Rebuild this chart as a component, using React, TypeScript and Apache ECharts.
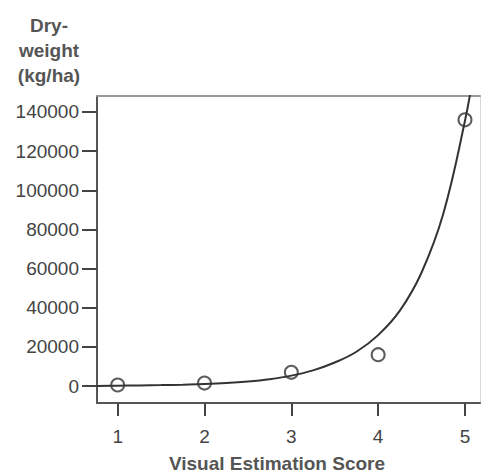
import React, { useEffect, useRef } from "react";
import * as echarts from "echarts";

const xTicks = [1, 2, 3, 4, 5];
const yTicks = [0, 20000, 40000, 60000, 80000, 100000, 120000, 140000];

// Observed points (Visual Estimation Score, Dry-weight kg/ha)
const scoreValues = [1, 2, 3, 4, 5];
const dryWeightValues = [500, 1500, 7000, 16000, 136000];

// Fitted curve
const curveX = [0.76, 1, 1.25, 1.5, 1.75, 2, 2.25, 2.5, 2.75, 3, 3.25, 3.5, 3.75, 4, 4.25, 4.5, 4.75, 5, 5.1];
const curveY = [0, 150, 280, 450, 700, 1000, 1500, 2300, 3500, 5300, 8000, 12000, 17500, 26000, 38500, 58000, 88000, 135500, 160000];

const FONT = "Liberation Sans, Arial, sans-serif";

export default function App() {
  const ref = useRef<HTMLDivElement>(null);

  useEffect(() => {
    if (!ref.current) return;
    const chart = echarts.init(ref.current, undefined, { renderer: "svg" });
    const xMin = 0.762;
    const xMax = 5.173;
    const yMin = -8686;
    const yMax = 148175;
    chart.setOption({
      animation: false,
      backgroundColor: "#ffffff",
      grid: { left: 97, top: 96, right: 2, bottom: 70, show: false },
      xAxis: [
        {
          type: "value",
          min: xMin,
          max: xMax,
          position: "bottom",
          axisLine: { show: true, onZero: false, lineStyle: { color: "#555", width: 2 } },
          axisTick: {
            show: true,
            customValues: xTicks,
            length: 13,
            lineStyle: { color: "#444", width: 2 },
          },
          axisLabel: {
            show: true,
            customValues: xTicks,
            margin: 24,
            color: "#444",
            fontSize: 19,
            fontFamily: FONT,
            formatter: (v: number) => String(v),
          },
          splitLine: { show: false },
        },
        {
          type: "value",
          min: xMin,
          max: xMax,
          position: "top",
          axisLine: { show: true, onZero: false, lineStyle: { color: "#999", width: 2 } },
          axisTick: { show: false },
          axisLabel: { show: false },
          splitLine: { show: false },
        },
      ],
      yAxis: [
        {
          type: "value",
          min: yMin,
          max: yMax,
          position: "left",
          axisLine: { show: true, onZero: false, lineStyle: { color: "#555", width: 2 } },
          axisTick: {
            show: true,
            customValues: yTicks,
            length: 15,
            lineStyle: { color: "#444", width: 2 },
          },
          axisLabel: {
            show: true,
            customValues: yTicks,
            margin: 18,
            color: "#444",
            fontSize: 19,
            fontFamily: FONT,
            formatter: (v: number) => String(Math.round(v)),
          },
          splitLine: { show: false },
        },
        {
          type: "value",
          min: yMin,
          max: yMax,
          position: "right",
          axisLine: { show: true, onZero: false, lineStyle: { color: "#d8d8d8", width: 1 } },
          axisTick: { show: false },
          axisLabel: { show: false },
          splitLine: { show: false },
        },
      ],
      series: [
        {
          type: "line",
          xAxisIndex: 0,
          yAxisIndex: 0,
          data: curveX.map((x, i) => [x, curveY[i]]),
          smooth: 0.4,
          showSymbol: false,
          clip: true,
          lineStyle: { color: "#333", width: 2 },
          z: 2,
        },
        {
          type: "scatter",
          xAxisIndex: 0,
          yAxisIndex: 0,
          data: scoreValues.map((x, i) => [x, dryWeightValues[i]]),
          symbol: "circle",
          symbolSize: 13,
          itemStyle: { color: "rgba(255,255,255,0)", borderColor: "#333", borderWidth: 2 },
          z: 3,
        },
      ],
      graphic: [
        {
          type: "text",
          x: 49,
          y: 50,
          style: {
            text: "Dry-\nweight\n(kg/ha)",
            align: "center",
            verticalAlign: "middle",
            lineHeight: 25,
            font: `bold 19px ${FONT}`,
            fill: "#555",
          },
        },
        {
          type: "text",
          x: 277,
          y: 463,
          style: {
            text: "Visual Estimation Score",
            align: "center",
            verticalAlign: "middle",
            font: `bold 19px ${FONT}`,
            fill: "#555",
          },
        },
      ],
    });
    return () => chart.dispose();
  }, []);

  return (
    <div
      ref={ref}
      style={{ position: "absolute", left: 0, top: 0, width: 482, height: 473 }}
    />
  );
}
